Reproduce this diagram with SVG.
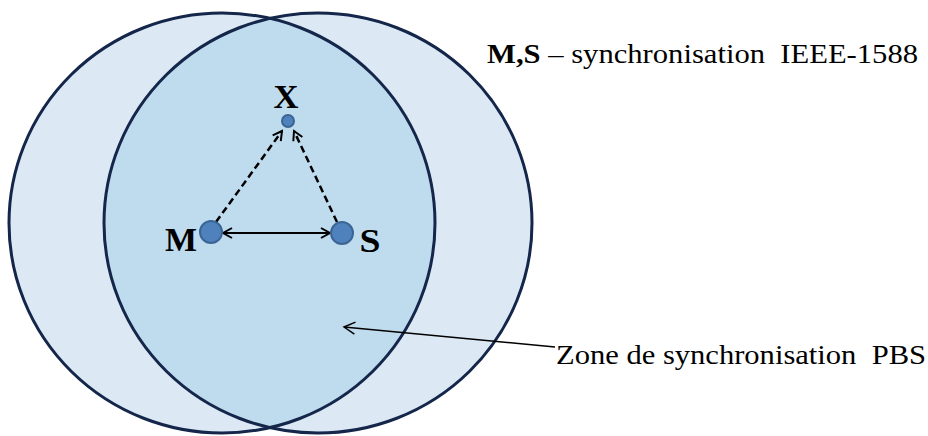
<svg xmlns="http://www.w3.org/2000/svg" width="928" height="436" viewBox="0 0 928 436">
<defs>
<style>
.zone{fill:#dce9f5;stroke:none}
.ring{fill:none;stroke:#14264a;stroke-width:3}
.node{fill:#4f81bd;stroke:#3b6595;stroke-width:2}
.lbl{font-family:"Liberation Serif","DejaVu Serif",serif;font-weight:bold;fill:#000;font-size:33px}
.txt{font-family:"Liberation Serif","DejaVu Serif",serif;fill:#000;font-size:27px}
.conn{stroke:#000;stroke-width:2;fill:none}
.dash{stroke:#000;stroke-width:2.5;fill:none;stroke-dasharray:7,4}
</style>
<marker id="open" viewBox="0 0 12 12" refX="10" refY="6" markerWidth="12" markerHeight="12" markerUnits="userSpaceOnUse" orient="auto-start-reverse">
<path d="M1,1 L10,6 L1,11" fill="none" stroke="#000" stroke-width="2"/>
</marker>
<marker id="thin" viewBox="0 0 14 14" refX="12" refY="7" markerWidth="14" markerHeight="14" markerUnits="userSpaceOnUse" orient="auto">
<path d="M1,1 L12,7 L1,13" fill="none" stroke="#000" stroke-width="1.5"/>
</marker>
<clipPath id="leftClip"><ellipse cx="222" cy="223" rx="213" ry="210"/></clipPath>
</defs>
<rect width="928" height="436" fill="#fff"/>
<g id="zones">
<ellipse class="zone" cx="222" cy="223" rx="213" ry="210"/>
<ellipse class="zone" cx="318" cy="223" rx="214" ry="210"/>
<ellipse cx="318" cy="223" rx="214" ry="210" fill="#bfdbee" clip-path="url(#leftClip)"/>
<ellipse class="ring" cx="222" cy="223" rx="213" ry="210"/>
<ellipse class="ring" cx="318" cy="223" rx="214" ry="210"/>
</g>
<g id="connectors">
<line class="conn" x1="223" y1="233" x2="330" y2="233" marker-start="url(#open)" marker-end="url(#open)"/>
<line class="dash" x1="216" y1="222" x2="282" y2="131" marker-end="url(#open)"/>
<line class="dash" x1="337" y1="222" x2="294" y2="131" marker-end="url(#open)"/>
<line x1="555" y1="347" x2="344" y2="327" stroke="#000" stroke-width="1.5" marker-end="url(#thin)"/>
</g>
<g id="node-X">
<circle class="node" cx="288" cy="121" r="6"/>
<text class="lbl" x="286" y="108" text-anchor="middle" textLength="25" lengthAdjust="spacingAndGlyphs">X</text>
</g>
<g id="node-M">
<circle class="node" cx="211" cy="232" r="11"/>
<text class="lbl" x="181" y="251" text-anchor="middle" textLength="32" lengthAdjust="spacingAndGlyphs">M</text>
</g>
<g id="node-S">
<circle class="node" cx="342" cy="233" r="11"/>
<text class="lbl" x="370" y="252" text-anchor="middle" textLength="21" lengthAdjust="spacingAndGlyphs">S</text>
</g>
<g id="legend">
<text class="txt" x="487" y="63" textLength="431" lengthAdjust="spacingAndGlyphs" xml:space="preserve"><tspan font-weight="bold">M,S</tspan> – synchronisation  IEEE-1588</text>
<text class="txt" x="556" y="364" textLength="370" lengthAdjust="spacingAndGlyphs" xml:space="preserve">Zone de synchronisation  PBS</text>
</g>
</svg>
